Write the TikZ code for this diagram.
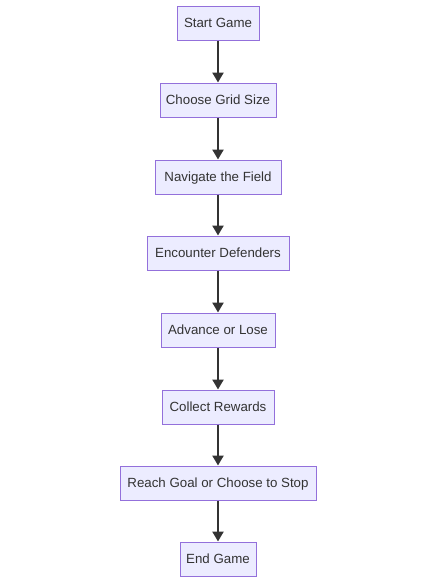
\documentclass[tikz,border=0pt]{standalone}
\usepackage{fontspec}
\setmainfont{Liberation Sans}
\usetikzlibrary{arrows.meta}
\definecolor{boxfill}{HTML}{ECECFF}
\definecolor{boxdraw}{HTML}{9370DB}
\definecolor{ink}{HTML}{333333}
\begin{document}
\begin{tikzpicture}[x=1pt,y=-1pt,
  box/.style={draw=boxdraw, fill=boxfill, line width=1pt, minimum height=34pt, inner sep=0pt, text height=10.5pt, text depth=1pt, font=\fontsize{13.3}{15}\selectfont, text=ink},
  flow/.style={draw=ink, line width=2.3pt, -{Triangle[length=10pt,width=11pt]}}]
\useasboundingbox (0,0) rectangle (422,584);
\node[box, minimum width=82pt] (n1) at (218,23) {Start Game};
\node[box, minimum width=116pt] (n2) at (218,100) {Choose Grid Size};
\node[box, minimum width=126pt] (n3) at (218,177) {Navigate the Field};
\node[box, minimum width=142pt] (n4) at (218,253) {Encounter Defenders};
\node[box, minimum width=114pt] (n5) at (218,330) {Advance or Lose};
\node[box, minimum width=112pt] (n6) at (218,407) {Collect Rewards};
\node[box, minimum width=196pt] (n7) at (218,483) {Reach Goal or Choose to Stop};
\node[box, minimum width=76pt] (n8) at (218,559) {End Game};
\foreach \a/\b in {n1/n2,n2/n3,n3/n4,n4/n5,n5/n6,n6/n7,n7/n8}
  \draw[flow] (\a) -- (\b);
\end{tikzpicture}
\end{document}
